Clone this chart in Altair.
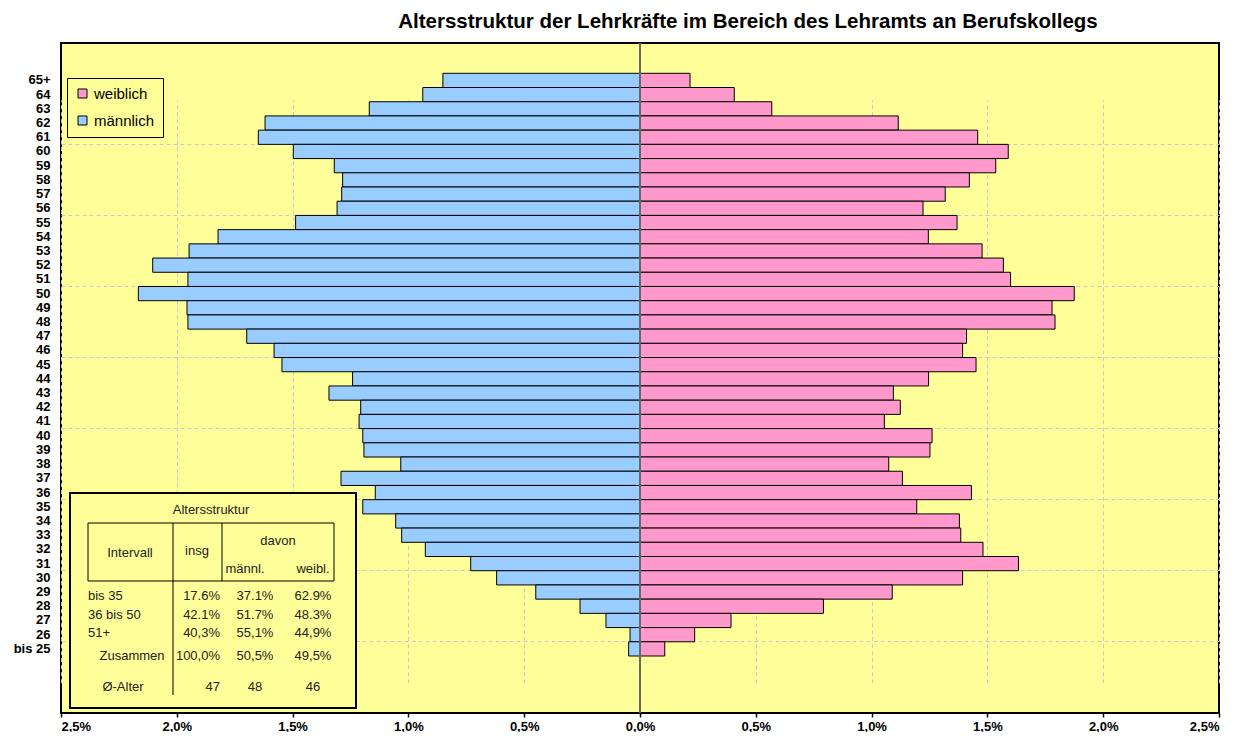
import altair as alt
import pandas as pd

# ---------------- data ----------------
ages = ["65+", "64", "63", "62", "61", "60", "59", "58", "57", "56", "55", "54", "53",
        "52", "51", "50", "49", "48", "47", "46", "45", "44", "43", "42", "41", "40",
        "39", "38", "37", "36", "35", "34", "33", "32", "31", "30", "29", "28", "27",
        "26", "bis 25"]
maennlich = [0.851, 0.938, 1.169, 1.619, 1.648, 1.497, 1.320, 1.284, 1.288, 1.308,
             1.487, 1.822, 1.947, 2.104, 1.952, 2.166, 1.956, 1.952, 1.698, 1.580,
             1.546, 1.241, 1.343, 1.206, 1.213, 1.197, 1.192, 1.033, 1.291, 1.143,
             1.197, 1.055, 1.029, 0.927, 0.731, 0.619, 0.450, 0.259, 0.147, 0.043,
             0.049]
weiblich = [0.216, 0.407, 0.569, 1.115, 1.458, 1.590, 1.536, 1.422, 1.318, 1.222,
            1.369, 1.245, 1.477, 1.569, 1.600, 1.875, 1.779, 1.792, 1.410, 1.393,
            1.451, 1.246, 1.094, 1.124, 1.055, 1.261, 1.252, 1.074, 1.133, 1.431,
            1.195, 1.379, 1.385, 1.481, 1.634, 1.393, 1.089, 0.792, 0.393, 0.236,
            0.107]

sex_labels = ["weiblich", "männlich"]
sex_colors = ["#FF99CC", "#99CCFF"]
x_ticks = [-2.5, -2.0, -1.5, -1.0, -0.5, 0.0, 0.5, 1.0, 1.5, 2.0, 2.5]
grid_rows = ["60", "55", "50", "45", "40", "35", "30", "bis 25"]
zero_line = [0.0]

title_text = "Altersstruktur der Lehrkräfte im Bereich des Lehramts an Berufskollegs"

table_title = "Altersstruktur"
table_header = ["Intervall", "insg", "davon", "männl.", "weibl."]
table_rows = ["bis 35", "36 bis 50", "51+", "Zusammen", "Ø-Alter"]
table_insg = ["17.6%", "42.1%", "40,3%", "100,0%", "47"]
table_maennl = ["37.1%", "51.7%", "55,1%", "50,5%", "48"]
table_weibl = ["62.9%", "48.3%", "44,9%", "49,5%", "46"]

# ---------------- layout constants (pixels inside plot area) ----------------
FONT = "Liberation Sans"
W, H = 1158, 670
BG = "#FFFF99"

records = []
for a, m, w in zip(ages, maennlich, weiblich):
    records.append({"age": a, "sex": "männlich", "value": -m})
    records.append({"age": a, "sex": "weiblich", "value": w})
df = pd.DataFrame(records)

grid_test = "indexof([" + ",".join("'" + g + "'" for g in grid_rows) + "], datum.value) >= 0"

bars = alt.Chart(df).mark_bar(stroke="black", strokeWidth=1).encode(
    x=alt.X("value:Q",
            scale=alt.Scale(domain=[-2.5, 2.5], nice=False),
            axis=alt.Axis(values=x_ticks, title=None,
                          labelExpr="replace(format(abs(datum.value), '.1f'), '.', ',') + '%'",
                          labelFont=FONT, labelFontSize=13, labelFontWeight="bold",
                          labelColor="black", labelPadding=3,
                          tickColor="black", tickSize=4, tickWidth=1.5,
                          domain=False, grid=True, gridColor="#C8C8D0",
                          gridDash=[4, 3], gridWidth=1)),
    y=alt.Y("age:N", sort=ages,
            scale=alt.Scale(paddingInner=0, paddingOuter=0, range=[30.3, 613.0]),
            axis=alt.Axis(title=None, ticks=False, domain=False,
                          labelFont=FONT, labelFontSize=13, labelFontWeight="bold",
                          labelColor="black", labelPadding=11,
                          grid=True, bandPosition=0,
                          gridColor="#C8C8D0", gridDash=[4, 3], gridWidth=1,
                          gridOpacity=alt.condition(grid_test, alt.value(1), alt.value(0)))),
    color=alt.Color("sex:N",
                    scale=alt.Scale(domain=sex_labels, range=sex_colors),
                    legend=alt.Legend(title=None, orient="none", legendX=6, legendY=35,
                                      fillColor=BG, strokeColor="black", padding=8,
                                      symbolType="square", symbolSize=81,
                                      symbolStrokeColor="black", symbolStrokeWidth=1,
                                      labelFont=FONT, labelFontSize=15, labelColor="black",
                                      rowPadding=11, labelOffset=4)),
)

zero = alt.Chart(pd.DataFrame({"x": zero_line})).mark_rule(
    color="#666666", strokeWidth=2).encode(x="x:Q")

dummy = pd.DataFrame({"k": [0]})
layers = [bars, zero]

# table frame
layers.append(alt.Chart(dummy).mark_rect(fill=BG, stroke="black", strokeWidth=2).encode(
    x=alt.value(9), x2=alt.value(295), y=alt.value(450), y2=alt.value(665)))
layers.append(alt.Chart(dummy).mark_rect(fillOpacity=0, stroke="black", strokeWidth=1).encode(
    x=alt.value(27), x2=alt.value(273), y=alt.value(480), y2=alt.value(538)))
layers.append(alt.Chart(dummy).mark_rule(color="black", strokeWidth=1).encode(
    x=alt.value(112), y=alt.value(480), y2=alt.value(652)))
layers.append(alt.Chart(dummy).mark_rule(color="black", strokeWidth=1).encode(
    x=alt.value(161), y=alt.value(480), y2=alt.value(538)))


def cell(text, px, py, align="center"):
    return alt.Chart(pd.DataFrame({"t": [text]})).mark_text(
        font=FONT, fontSize=13, color="#222222", align=align, baseline="middle"
    ).encode(text="t:N", x=alt.value(px), y=alt.value(py))


layers.append(cell(table_title, 150, 467))
header_pos = [(69, 510), (136, 508), (217, 498), (184, 526), (252, 526)]
for txt, (px, py) in zip(table_header, header_pos):
    layers.append(cell(txt, px, py))

row_y = [553, 572, 590, 613, 644]
label_pos = [(27, "left"), (27, "left"), (27, "left"), (71, "center"), (62, "center")]
for i, y in enumerate(row_y):
    lx, la = label_pos[i]
    layers.append(cell(table_rows[i], lx, y, la))
    layers.append(cell(table_insg[i], 159, y, "right"))
    layers.append(cell(table_maennl[i], 194, y))
    layers.append(cell(table_weibl[i], 252, y))

chart = alt.layer(*layers).properties(
    width=W, height=H,
    padding={"left": 53, "top": 35, "right": 12, "bottom": 19},
    autosize="none",
    title=alt.Title(title_text, font=FONT, fontSize=20.5, fontWeight="bold",
                    color="black", anchor="middle", dx=108, offset=10),
    background="white",
).configure_view(fill=BG, stroke="black", strokeWidth=2)

chart.save("out.html", embed_options={"renderer": "svg", "actions": False})
